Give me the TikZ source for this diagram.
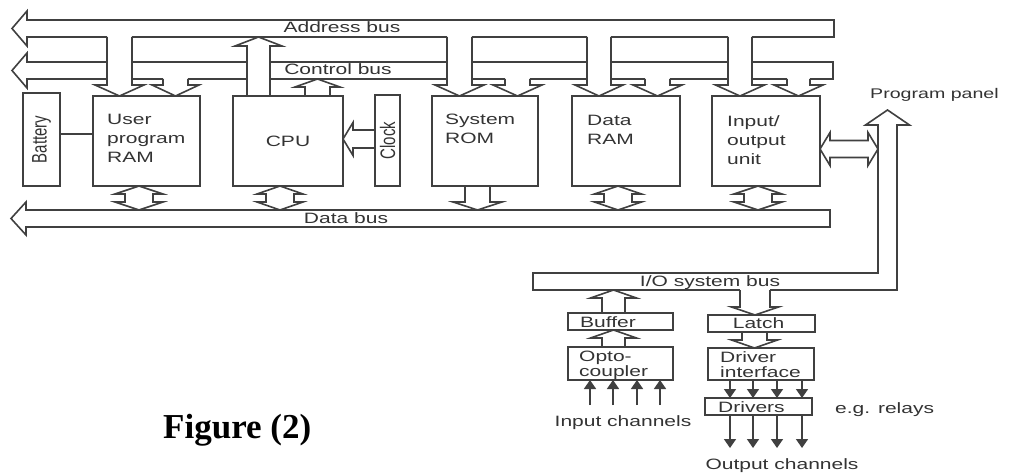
\documentclass[tikz,border=0pt]{standalone}
\usepackage{fontspec}
\newfontfamily\lab[FakeStretch=1.4]{Liberation Sans}
\newfontfamily\labr{Liberation Sans}
\newfontfamily\figf{Liberation Serif}
\usetikzlibrary{calc,arrows.meta}
\tikzset{
 ln/.style={draw=black!75, line width=1.6pt, line join=miter},
 box/.style={ln, rectangle, anchor=north west, inner sep=0pt, outer sep=0pt},
 lbl/.style={font={\lab\fontsize{15}{19}\selectfont}, text=black!80, inner sep=0pt},
 slbl/.style={font={\lab\fontsize{15}{15}\selectfont}, text=black!80, inner sep=0pt},
 sig/.style={draw=black!75, line width=1.6pt, -{Triangle[width=12pt,length=9pt]}},
}
% down arrow open at its start: [erase offset]{start}{tip}{shaft half}{head half}{head length}
\newcommand\arrdn[6][-2]{%
  \fill[white] ($(#2)+(-#4,#1)$) rectangle ($(#3)+(#4,-#6)$);
  \draw[ln] ($(#2)+(-#4,0)$) -- ($(#3)+(-#4,-#6)$) -- ($(#3)+(-#5,-#6)$) -- (#3) -- ($(#3)+(#5,-#6)$) -- ($(#3)+(#4,-#6)$) -- ($(#2)+(#4,0)$);}
% up arrow: {start}{tip}{shaft half}{head half}{head length}
\newcommand\arrup[5]{%
  \fill[white] ($(#1)+(-#3,-1)$) rectangle ($(#2)+(#3,#5)$);
  \draw[ln] ($(#1)+(-#3,0)$) -- ($(#2)+(-#3,#5)$) -- ($(#2)+(-#4,#5)$) -- (#2) -- ($(#2)+(#4,#5)$) -- ($(#2)+(#3,#5)$) -- ($(#1)+(#3,0)$);}
% vertical double arrow: {top tip}{bottom tip}{shaft half}{head half}{head length}
\newcommand\arrbi[5]{%
  \draw[ln,fill=white] (#1) -- ($(#1)+(#4,#5)$) -- ($(#1)+(#3,#5)$) -- ($(#2)+(#3,-#5)$) -- ($(#2)+(#4,-#5)$) -- (#2) -- ($(#2)+(-#4,-#5)$) -- ($(#2)+(-#3,-#5)$) -- ($(#1)+(-#3,#5)$) -- ($(#1)+(-#4,#5)$) -- cycle;}
% horizontal double arrow: {left tip}{right tip}{shaft half}{head half}{head length}
\newcommand\arrbih[5]{%
  \draw[ln,fill=white] (#1) -- ($(#1)+(#5,-#4)$) -- ($(#1)+(#5,-#3)$) -- ($(#2)+(-#5,-#3)$) -- ($(#2)+(-#5,-#4)$) -- (#2) -- ($(#2)+(-#5,#4)$) -- ($(#2)+(-#5,#3)$) -- ($(#1)+(#5,#3)$) -- ($(#1)+(#5,#4)$) -- cycle;}
% left arrow: {start (right)}{tip (left)}{shaft half}{head half}{head length}
\newcommand\arrlt[5]{%
  \draw[ln] ($(#1)+(0,-#3)$) -- ($(#2)+(#5,-#3)$) -- ($(#2)+(#5,-#4)$) -- (#2) -- ($(#2)+(#5,#4)$) -- ($(#2)+(#5,#3)$) -- ($(#1)+(0,#3)$);}
\begin{document}
\begin{tikzpicture}[x=1pt,y=-1pt]
\useasboundingbox (0,0) rectangle (1011,476);
% ---- buses ----
\draw[ln,fill=white] (834,20) -- (27,20) -- (27,11) -- (12,28.5) -- (27,46) -- (27,37) -- (834,37) -- cycle;
\draw[ln,fill=white] (833,62) -- (27,62) -- (27,53) -- (12,70.5) -- (27,88) -- (27,79) -- (833,79) -- cycle;
\draw[ln,fill=white] (830,210) -- (26,210) -- (26,202) -- (11,218.5) -- (26,235) -- (26,227) -- (830,227) -- cycle;
\draw[ln,fill=white] (533,273) -- (878,273) -- (878,125) -- (865.5,125) -- (887.5,110) -- (909.5,125) -- (897,125) -- (897,290) -- (533,290) -- cycle;
\coordinate (addrB) at (0,37);
\coordinate (ctrlB) at (0,79);
\coordinate (dataT) at (0,210);
\coordinate (ioB) at (0,290);
\coordinate (panelL) at (878,0);
\coordinate (inY) at (0,405);
\coordinate (outY) at (0,448);
% ---- boxes ----
\node[box, minimum width=37pt, minimum height=93pt] (bat) at (23,93) {};
\node[box, minimum width=107pt, minimum height=90pt] (ram) at (93,96) {};
\node[box, minimum width=110pt, minimum height=90pt] (cpu) at (233,96) {};
\node[box, minimum width=25pt, minimum height=91pt] (clk) at (375,95) {};
\node[box, minimum width=106pt, minimum height=90pt] (rom) at (432,96) {};
\node[box, minimum width=108pt, minimum height=90pt] (dram) at (572,96) {};
\node[box, minimum width=108pt, minimum height=90pt] (io) at (712,96) {};
\node[box, minimum width=105pt, minimum height=17pt] (buf) at (568,313) {};
\node[box, minimum width=105pt, minimum height=33pt] (opto) at (568,347) {};
\node[box, minimum width=107pt, minimum height=17pt] (latch) at (708,315) {};
\node[box, minimum width=106pt, minimum height=32pt] (di) at (708,348) {};
\node[box, minimum width=107pt, minimum height=17pt] (drv) at (705,398) {};
% ---- bus arrows ----
\arrdn{119.5,0 |- addrB}{119.5,0 |- ram.north}{12.5}{24.5}{11}
\arrdn{175.5,0 |- ctrlB}{175.5,0 |- ram.north}{12.5}{23.5}{11}
\arrdn{459.5,0 |- addrB}{459.5,0 |- rom.north}{12.5}{24.5}{11}
\arrdn{517.5,0 |- ctrlB}{517.5,0 |- rom.north}{12.5}{24.5}{11}
\arrdn{599,0 |- addrB}{599,0 |- dram.north}{12}{24}{11}
\arrdn{657.5,0 |- ctrlB}{657.5,0 |- dram.north}{12.5}{24.5}{11}
\arrdn{740,0 |- addrB}{740,0 |- io.north}{12}{24.5}{11}
\arrdn{798.5,0 |- ctrlB}{798.5,0 |- io.north}{11.5}{24.5}{11}
\arrup{258.5,0 |- cpu.north}{258.5,0 |- addrB}{11.5}{23.5}{9}
\arrup{317.5,0 |- cpu.north}{317.5,0 |- ctrlB}{12.5}{22.5}{8}
\arrlt{clk.west |- 0,139}{cpu.east |- 0,139}{9}{16.5}{10}
\draw[ln] (bat.east |- 0,134) -- (ram.west |- 0,134);
\arrbi{139,0 |- ram.south}{139,0 |- dataT}{14}{24}{8}
\arrbi{280,0 |- cpu.south}{280,0 |- dataT}{14}{23}{8}
\arrdn[1]{477.5,0 |- rom.south}{477.5,0 |- dataT}{12.5}{24.5}{8}
\arrbi{618,0 |- dram.south}{618,0 |- dataT}{14}{23.5}{8}
\arrbi{758,0 |- io.south}{758,0 |- dataT}{14}{24}{8}
\arrbih{io.east |- 0,149}{panelL |- 0,149}{8.5}{16.5}{10}
% ---- I/O section ----
\arrup{613.5,0 |- buf.north}{613.5,0 |- ioB}{11.5}{23}{8}
\arrup{613.5,0 |- opto.north}{613.5,0 |- buf.south}{11.5}{23}{8}
\arrdn{755,0 |- ioB}{755,0 |- latch.north}{15}{23.5}{8}
\arrdn[1]{754.5,0 |- latch.south}{754.5,0 |- di.north}{12.5}{23}{8}
\foreach \x in {590,613,637,660} \draw[sig] (\x,0 |- inY) -- (\x,0 |- opto.south);
\foreach \x in {730,753,777,802} \draw[sig] (\x,0 |- di.south) -- (\x,0 |- drv.north);
\foreach \x in {730,753,777,802} \draw[sig] (\x,0 |- drv.south) -- (\x,0 |- outY);
% ---- texts ----
\node[lbl, rotate=90] (batt) at (bat.center) {\labr\scalebox{1}[1.4]{Battery}};
\node[lbl, rotate=90] (clkt) at (clk.center) {\labr\scalebox{1}[1.4]{Clock}};
\node[lbl] (cput) at (cpu.center) {CPU};
\node[lbl, anchor=north west, align=left] (ramt) at ($(ram.north west)+(14,18)$) {User\\program\\RAM};
\node[lbl, anchor=north west, align=left] (romt) at ($(rom.north west)+(13,18)$) {System\\ROM};
\node[lbl, anchor=north west, align=left] (dramt) at ($(dram.north west)+(15,18.5)$) {Data\\RAM};
\node[lbl, anchor=north west, align=left] (iot) at ($(io.north west)+(15,19.5)$) {Input/\\output\\unit};
\node[lbl, anchor=base west] (buft) at (580,327.5) {Buffer};
\node[lbl, anchor=base] (latcht) at (758.5,328.5) {Latch};
\node[slbl, anchor=north west, align=left] (optot) at (579,350.5) {Opto-\\coupler};
\node[slbl, anchor=north west, align=left] (dit) at (720,351.5) {Driver\\interface};
\node[lbl, anchor=base west] (drvt) at (718,412) {Drivers};
\node[lbl, anchor=base] (abl) at (342,33) {Address bus};
\node[lbl, anchor=base] (cbl) at (338,75) {Control bus};
\node[lbl, anchor=base] (dbl) at (346,223.5) {Data bus};
\node[lbl, anchor=base] (iol) at (710,286.5) {I/O system bus};
\node[lbl, anchor=base west, font={\lab\fontsize{14}{17}\selectfont}] (ppl) at (870,99) {Program panel};
\node[lbl, anchor=base west] (egl) at (835,413) {e.g. relays};
\node[lbl, anchor=base] (inl) at (623,426) {Input channels};
\node[lbl, anchor=base] (outl) at (782,469) {Output channels};
\node[anchor=base west, inner sep=0pt, font={\figf\bfseries\fontsize{35}{40}\selectfont}] (fig) at (163,438) {Figure (2)};
\end{tikzpicture}
\end{document}
